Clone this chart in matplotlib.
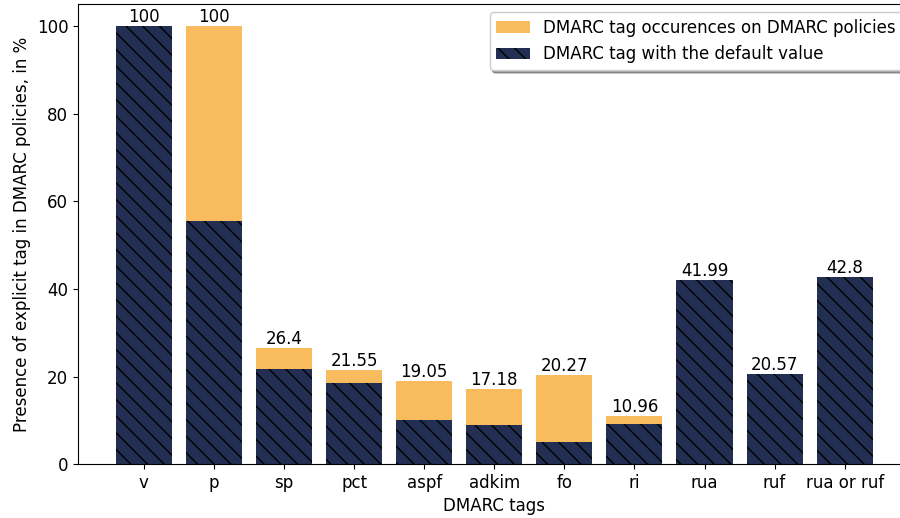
import matplotlib
matplotlib.use("Agg")
import matplotlib.pyplot as plt

# tags DMARC et valeurs (en %)
tags = ["v", "p", "sp", "pct", "aspf", "adkim", "fo", "ri", "rua", "ruf", "rua or ruf"]
occurences = [100, 100, 26.4, 21.55, 19.05, 17.18, 20.27, 10.96, 41.99, 20.57, 42.8]
default_vals = [100, 55.5, 21.7, 18.6, 10.0, 8.9, 5.1, 9.2, 41.99, 20.57, 42.8]

plt.rcParams['hatch.color'] = 'black'

fig = plt.figure(figsize=(9, 5.18), dpi=100)
ax = fig.add_axes([0.0867, 0.104, 0.925, 0.888])

bars = ax.bar(tags, occurences, color='#F8BC5E',
              label='DMARC tag occurences on DMARC policies')
ax.bar(tags, default_vals, color='#232F52', hatch='\\\\',
       label='DMARC tag with the default value')
ax.bar_label(bars, labels=[f"{v:g}" for v in occurences], fontsize=12)

ax.set_xlabel("DMARC tags", fontsize=12)
ax.set_ylabel("Presence of explicit tag in DMARC policies, in %", fontsize=12)
ax.tick_params(labelsize=12)
ax.legend(loc='upper right', shadow=True, fontsize=12)

fig.savefig("out.png", dpi=100)
